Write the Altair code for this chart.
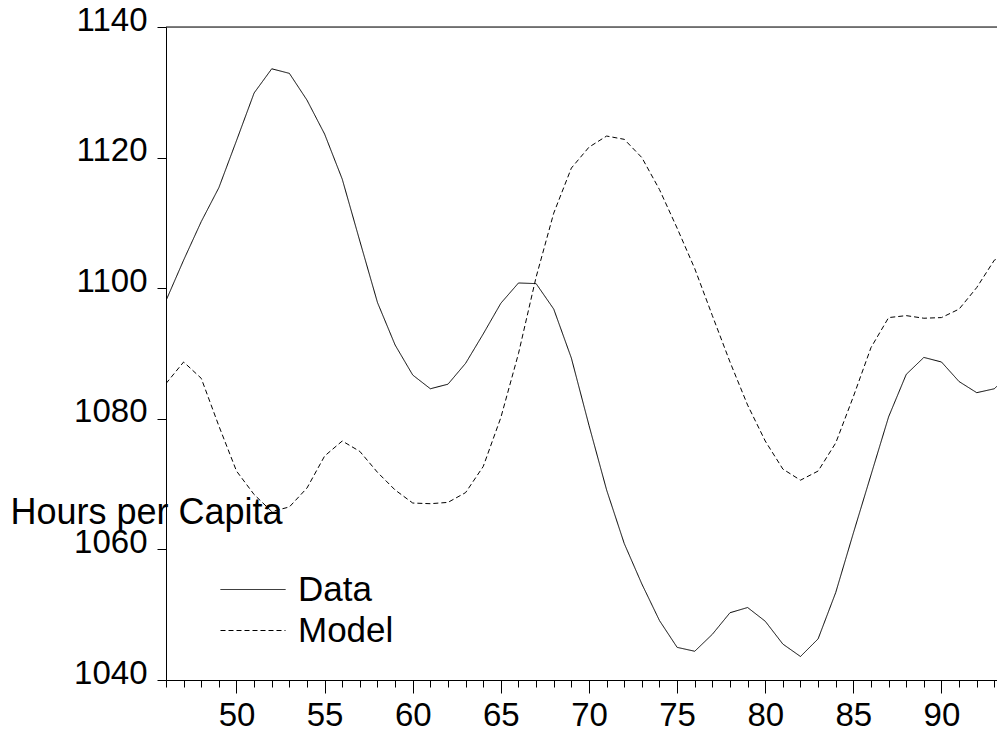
import altair as alt
import pandas as pd

years = list(range(46, 95))
data_values = [1098.1, 1104.3, 1110.2, 1115.4, 1122.6, 1129.9, 1133.6, 1132.9, 1128.8, 1123.6,
               1116.7, 1107.2, 1097.8, 1091.3, 1086.7, 1084.6, 1085.3, 1088.5, 1093.0, 1097.7,
               1100.8, 1100.7, 1096.8, 1089.3, 1079.0, 1069.1, 1060.9, 1054.7, 1049.1, 1045.0,
               1044.4, 1047.0, 1050.3, 1051.1, 1049.0, 1045.5, 1043.6, 1046.3, 1053.4, 1062.5,
               1071.4, 1080.3, 1086.8, 1089.4, 1088.7, 1085.7, 1084.0, 1084.6, 1087.3]
model_values = [1085.4, 1088.7, 1086.2, 1078.9, 1072.0, 1068.4, 1065.8, 1066.5, 1069.4, 1074.3,
                1076.6, 1075.0, 1071.8, 1069.1, 1067.1, 1067.0, 1067.2, 1068.7, 1072.7, 1080.2,
                1090.0, 1101.7, 1111.5, 1118.4, 1121.6, 1123.3, 1122.8, 1120.0, 1115.1, 1109.2,
                1103.0, 1095.8, 1088.7, 1082.1, 1076.6, 1072.3, 1070.6, 1072.0, 1076.3, 1083.4,
                1090.9, 1095.5, 1095.8, 1095.4, 1095.5, 1096.8, 1100.1, 1104.3, 1105.5]
series_names = ["Data", "Model"]
x_major_ticks = [50, 55, 60, 65, 70, 75, 80, 85, 90]
x_minor_ticks = list(range(46, 94))
y_tick_values = [1040, 1060, 1080, 1100, 1120, 1140]
x_domain = [46, 93.15]
y_domain = [1040, 1140]

FONT = "Liberation Sans"
PLOT_W = 831
PLOT_H = 653

df = pd.DataFrame({
    "year": years * 2,
    "value": data_values + model_values,
    "series": ["Data"] * len(years) + ["Model"] * len(years),
})

x_scale = alt.Scale(domain=x_domain, nice=False, zero=False)
y_scale = alt.Scale(domain=y_domain, nice=False, zero=False)

major_axis = alt.Axis(values=x_major_ticks, title=None, grid=False, orient="bottom",
                      tickSize=13, labelPadding=6, labelFontSize=33, labelFont=FONT,
                      labelColor="black", labelBaseline="top", format="d",
                      domainColor="black", tickColor="black", domainWidth=1, tickWidth=1,
                      labelFlush=False, labelOverlap=False)
minor_axis = alt.Axis(values=x_minor_ticks, title=None, grid=False, orient="bottom",
                      tickSize=7, labels=False, domain=False,
                      tickColor="black", tickWidth=1)

y_axis = alt.Axis(values=y_tick_values, grid=False, tickSize=9, labelPadding=10,
                  format="d",
                  labelFontSize=33, labelFont=FONT, labelColor="black",
                  labelBaseline="alphabetic", labelOffset=3,
                  domainColor="black", tickColor="black", domainWidth=1, tickWidth=1,
                  title="Hours per Capita", titleAngle=0, titleX=-156, titleY=496,
                  titleAlign="left", titleBaseline="alphabetic", titleFontSize=36,
                  titleFontWeight="normal", titleFont=FONT, titleColor="black")

lines = alt.Chart(df).mark_line(color="black", strokeWidth=1, clip=True).encode(
    x=alt.X("year:Q", scale=x_scale, axis=major_axis),
    y=alt.Y("value:Q", scale=y_scale, axis=y_axis),
    strokeDash=alt.StrokeDash("series:N",
                              scale=alt.Scale(domain=series_names, range=[[1, 0], [5, 3]]),
                              legend=alt.Legend(title=None, orient="none", legendX=54, legendY=543,
                                                symbolType="stroke", symbolSize=4225,
                                                symbolStrokeWidth=1, symbolStrokeColor="black",
                                                clipHeight=39, rowPadding=2, labelOffset=12,
                                                labelFontSize=35, labelFont=FONT, labelColor="black",
                                                padding=0)),
)

minor_ticks_layer = alt.Chart(df).mark_point(opacity=0).encode(
    x=alt.X("year:Q", scale=x_scale, axis=minor_axis),
)

top_border = alt.Chart(pd.DataFrame({"k": [0]})).mark_rule(color="black", strokeWidth=1).encode(
    x=alt.value(0),
    x2=alt.value(PLOT_W),
    y=alt.value(0),
)

chart = alt.layer(lines, minor_ticks_layer, top_border).resolve_scale(
    x="shared"
).resolve_axis(
    x="independent"
).properties(
    width=PLOT_W, height=PLOT_H,
    padding={"left": 158, "top": 19, "right": 0, "bottom": 50},
    autosize=alt.AutoSizeParams(type="none"),
).configure_view(stroke=None).configure(background="white")

chart.save("out.html", embed_options={"renderer": "svg", "actions": False})
